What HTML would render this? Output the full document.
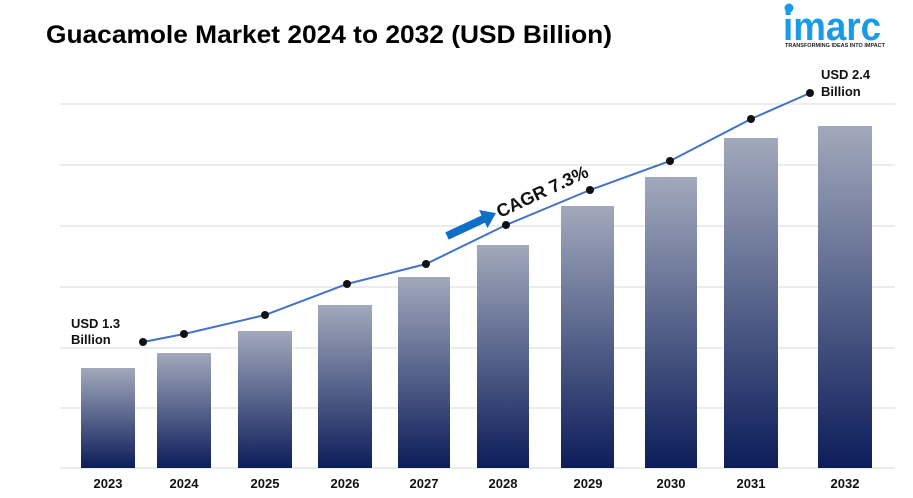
<!DOCTYPE html>
<html><head><style>
body{margin:0;background:#fff;}
svg{display:block;font-family:"Liberation Sans",sans-serif;}
</style></head><body>
<svg width="913" height="498" viewBox="0 0 913 498">
<defs>
<linearGradient id="g" x1="0" y1="0" x2="0" y2="1">
<stop offset="0" stop-color="#a2a9bc"/>
<stop offset="1" stop-color="#0c1d5a"/>
</linearGradient>
</defs>
<text x="46" y="43" font-size="25" font-weight="bold" fill="#000" textLength="566" lengthAdjust="spacingAndGlyphs">Guacamole Market 2024 to 2032 (USD Billion)</text>
<circle cx="789" cy="8" r="4.5" fill="#1a9be8"/>
<text x="783" y="40" font-size="40" font-weight="bold" fill="#1a9be8" textLength="98" lengthAdjust="spacingAndGlyphs">imarc</text>
<text x="785" y="47" font-size="5.5" font-weight="bold" fill="#222">TRANSFORMING IDEAS INTO IMPACT</text>
<g stroke="#d9d9d9" stroke-width="1">
<line x1="60" y1="104" x2="895" y2="104"/>
<line x1="60" y1="165" x2="895" y2="165"/>
<line x1="60" y1="226" x2="895" y2="226"/>
<line x1="60" y1="287" x2="895" y2="287"/>
<line x1="60" y1="348" x2="895" y2="348"/>
<line x1="60" y1="408" x2="895" y2="408"/>
<line x1="60" y1="468" x2="895" y2="468"/>
</g>
<g fill="url(#g)">
<rect x="81" y="368" width="54" height="100"/>
<rect x="157" y="353" width="54" height="115"/>
<rect x="238" y="331" width="54" height="137"/>
<rect x="318" y="305" width="54" height="163"/>
<rect x="398" y="277" width="52" height="191"/>
<rect x="477" y="245" width="52" height="223"/>
<rect x="561" y="206" width="53" height="262"/>
<rect x="645" y="177" width="52" height="291"/>
<rect x="724" y="138" width="54" height="330"/>
<rect x="818" y="126" width="54" height="342"/>
</g>
<polyline points="143,342 184,334 265,315 347,284 426,264 506,225 590,190 670,161 751,119 810,93" fill="none" stroke="#4472c4" stroke-width="2"/>
<g fill="#111">
<circle cx="143" cy="342" r="4"/><circle cx="184" cy="334" r="4"/><circle cx="265" cy="315" r="4"/>
<circle cx="347" cy="284" r="4"/><circle cx="426" cy="264" r="4"/><circle cx="506" cy="225" r="4"/>
<circle cx="590" cy="190" r="4"/><circle cx="670" cy="161" r="4"/><circle cx="751" cy="119" r="4"/>
<circle cx="810" cy="93" r="4"/>
</g>
<g transform="translate(447,236) rotate(-25)">
<rect x="0" y="-4" width="42" height="8" fill="#0f6fc6"/>
<polygon points="40,-10 54,0 40,10" fill="#0f6fc6"/>
</g>
<text x="0" y="0" font-size="18" font-weight="bold" fill="#111" transform="translate(500,218) rotate(-25)">CAGR 7.3%</text>
<g font-size="13" font-weight="bold" fill="#111">
<text x="71" y="328">USD 1.3</text><text x="71" y="344">Billion</text>
<text x="821" y="79">USD 2.4</text><text x="821" y="96">Billion</text>
</g>
<g font-size="13" font-weight="bold" fill="#111" text-anchor="middle">
<text x="108" y="488">2023</text><text x="184" y="488">2024</text><text x="265" y="488">2025</text>
<text x="345" y="488">2026</text><text x="424" y="488">2027</text><text x="503" y="488">2028</text>
<text x="588" y="488">2029</text><text x="671" y="488">2030</text><text x="751" y="488">2031</text>
<text x="845" y="488">2032</text>
</g>
</svg>
</body></html>
